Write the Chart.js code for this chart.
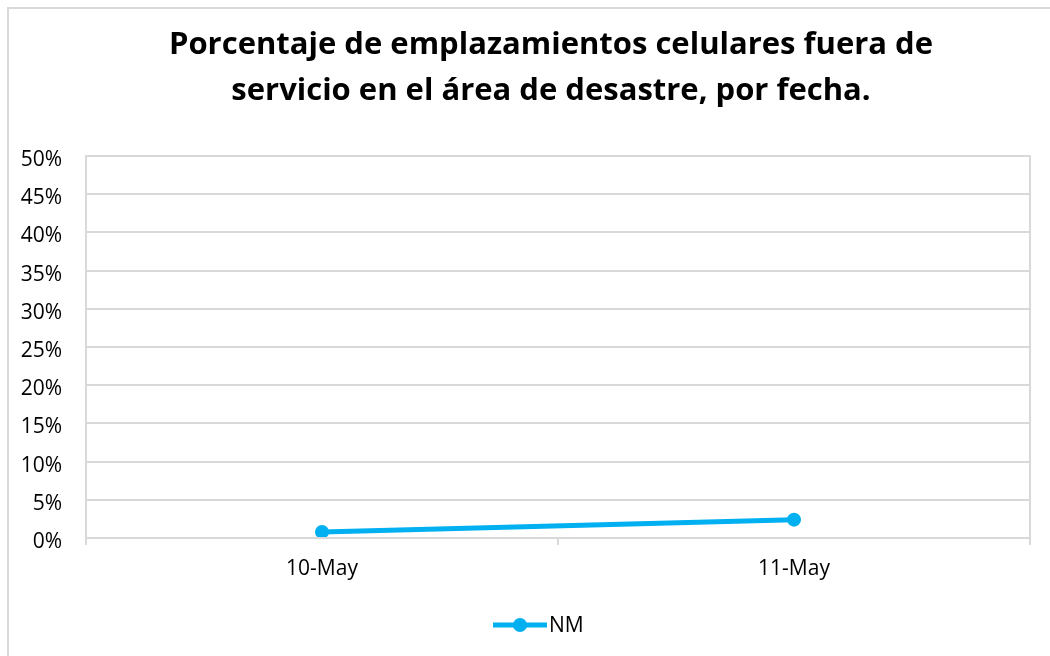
<!DOCTYPE html>
<html><head><meta charset="utf-8">
<script src="https://cdn.jsdelivr.net/npm/chart.js@4/dist/chart.umd.min.js"></script>
<style>html,body{margin:0;padding:0;background:#fff;}#wrap{width:1050px;height:656px;position:relative;}</style>
</head><body><div id="wrap"><canvas id="c" width="1050" height="656"></canvas></div>
<script>
const categories = ['10-May', '11-May'];
const nmValues = [0.8, 2.4];
const seriesName = 'NM';
const titleLines = ['Porcentaje de emplazamientos celulares fuera de', 'servicio en el área de desastre, por fecha.'];
const yTicks = [0, 5, 10, 15, 20, 25, 30, 35, 40, 45, 50];

const FONT = '"Open Sans", sans-serif';
const COLOR = '#00B0F0';
const GRID = '#d9d9d9';

const framePlugin = {
  id: 'frame',
  beforeDraw(chart) {
    const ctx = chart.ctx;
    ctx.save();
    ctx.fillStyle = '#fff';
    ctx.fillRect(0, 0, chart.width, chart.height);
    ctx.strokeStyle = GRID; ctx.lineWidth = 2;
    ctx.beginPath();
    ctx.moveTo(8, chart.height); ctx.lineTo(8, 8); ctx.lineTo(chart.width, 8);
    ctx.stroke();
    // title
    ctx.fillStyle = '#000'; ctx.font = 'bold 31px ' + FONT;
    ctx.textAlign = 'center'; ctx.textBaseline = 'middle';
    ctx.fillText(titleLines[0], 551, 45);
    ctx.fillText(titleLines[1], 551, 91);
    ctx.restore();
  },
  afterDraw(chart) {
    const ctx = chart.ctx, a = chart.chartArea;
    ctx.save();
    ctx.strokeStyle = GRID; ctx.lineWidth = 2;
    ctx.strokeRect(a.left, a.top, a.right - a.left, a.bottom - a.top);
    // legend
    const ds = chart.data.datasets[0];
    const cy = 625, cx = 520;
    ctx.strokeStyle = COLOR; ctx.lineWidth = 5;
    ctx.beginPath(); ctx.moveTo(cx - 27, cy); ctx.lineTo(cx + 27, cy); ctx.stroke();
    ctx.fillStyle = COLOR;
    ctx.beginPath(); ctx.arc(cx, cy, 7, 0, Math.PI * 2); ctx.fill();
    ctx.fillStyle = '#000'; ctx.font = '21px ' + FONT; ctx.textBaseline = 'middle'; ctx.textAlign = 'left';
    ctx.fillText(ds.label, cx + 29, cy + 1);
    ctx.restore();
  }
};

new Chart(document.getElementById('c'), {
  type: 'line',
  data: {
    labels: categories,
    datasets: [{
      label: seriesName,
      data: nmValues,
      borderColor: COLOR,
      backgroundColor: COLOR,
      borderWidth: 5,
      pointRadius: 7,
      pointHoverRadius: 7,
      pointBackgroundColor: COLOR,
      pointBorderWidth: 0,
      tension: 0
    }]
  },
  options: {
    responsive: false,
    animation: false,
    layout: { padding: { left: 0, right: 20, top: 156, bottom: 75 } },
    plugins: {
      legend: { display: false },
      tooltip: { enabled: false },
      title: { display: false }
    },
    scales: {
      x: {
        type: 'category',
        offset: true,
        grid: { offset: true, drawOnChartArea: false, color: GRID, lineWidth: 2, tickLength: 7 },
        border: { color: GRID, width: 2 },
        ticks: { color: '#000', font: { family: FONT, size: 21 }, padding: 11, maxRotation: 0 },
        afterFit(s) { s.height = 43; }
      },
      y: {
        min: 0, max: 50,
        grid: { color: GRID, lineWidth: 2, drawTicks: false },
        border: { color: GRID, width: 2 },
        afterBuildTicks(s) { s.ticks = yTicks.map(v => ({ value: v })); },
        ticks: { color: '#000', font: { family: FONT, size: 21 }, padding: 24, labelOffset: 4, callback: v => v + '%' },
        afterFit(s) { s.width = 86; }
      }
    }
  },
  plugins: [framePlugin]
});
</script></body></html>
